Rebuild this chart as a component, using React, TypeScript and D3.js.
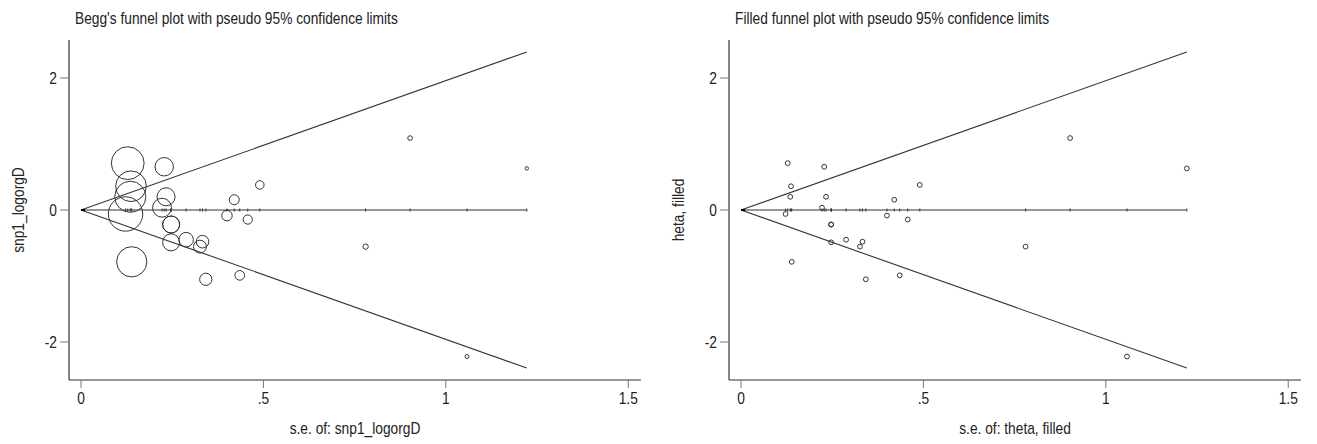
import React from "react";
import * as d3 from "d3";

// Study standard errors and effect estimates (log OR)
const seValues = [0.128, 0.228, 0.137, 0.135, 0.233, 0.122, 0.222, 0.247, 0.247, 0.247, 0.288, 0.333, 0.326, 0.139, 0.342, 0.435, 0.42, 0.40, 0.457, 0.49, 0.902, 1.222, 0.78, 1.058];
const thetaValues = [0.71, 0.655, 0.36, 0.20, 0.20, -0.06, 0.035, -0.22, -0.22, -0.49, -0.45, -0.48, -0.555, -0.785, -1.05, -0.99, 0.155, -0.085, -0.145, 0.38, 1.09, 0.63, -0.555, -2.22];

const xTicks = [0, 0.5, 1, 1.5];
const xTickLabels = ["0", ".5", "1", "1.5"];
const yTicks = [-2, 0, 2];
const yTickLabels = ["-2", "0", "2"];

const panels = [
  { title: "Begg's funnel plot with pseudo 95% confidence limits", yTitle: "snp1_logorgD", xTitle: "s.e. of: snp1_logorgD", weighted: true, offset: 0 },
  { title: "Filled funnel plot with pseudo 95% confidence limits", yTitle: "heta, filled", xTitle: "s.e. of: theta, filled", weighted: false, offset: 660 },
];

const FONT = "'Liberation Sans', Arial, Helvetica, sans-serif";
const TEXT = "#222";
const LINE = "#333";
const FS = 16;
const SX = 0.86;

function T({ x, y, anchor = "start", rotate = 0, children }: { x: number; y: number; anchor?: string; rotate?: number; children: React.ReactNode }) {
  return (
    <text
      transform={`translate(${x},${y}) rotate(${rotate}) scale(${SX},1)`}
      textAnchor={anchor}
      fontFamily={FONT}
      fontSize={FS}
      fill={TEXT}
    >
      {children}
    </text>
  );
}

function Panel({ p }: { p: typeof panels[number] }) {
  const ox = p.offset;
  const x = d3.scaleLinear().domain([-0.033, 1.535]).range([69 + ox, 641 + ox]);
  const y = d3.scaleLinear().domain([-2.576, 2.576]).range([380, 40]);
  const maxSe = d3.max(seValues) as number;
  const r = d3.scaleSqrt().domain([0, 1]).range([0, 2.1]);
  const data = seValues.map((s, i) => ({ se: s, theta: thetaValues[i] }));
  const upper = d3.line<number>().x((s) => x(s)).y((s) => y(1.96 * s));
  const lower = d3.line<number>().x((s) => x(s)).y((s) => y(-1.96 * s));
  const zero = d3.line<number>().x((s) => x(s)).y(() => y(0));
  const funnelSe = [0, maxSe];
  const [xl, xr] = x.range();
  const [yb, yt] = y.range();
  return (
    <g>
      <T x={75 + ox} y={24}>{p.title}</T>
      {/* axes */}
      <line x1={xl} x2={xl} y1={yt} y2={yb} stroke={LINE} strokeWidth={1.2} />
      <line x1={xl} x2={xr} y1={yb} y2={yb} stroke={LINE} strokeWidth={1.2} />
      {yTicks.map((t, i) => (
        <g key={"y" + t}>
          <line x1={xl - 9} x2={xl} y1={y(t)} y2={y(t)} stroke="#777" strokeWidth={1} />
          <T x={xl - 12} y={y(t) + 6} anchor="end">{yTickLabels[i]}</T>
        </g>
      ))}
      {xTicks.map((t, i) => (
        <g key={"x" + t}>
          <line x1={x(t)} x2={x(t)} y1={yb} y2={yb + 8} stroke="#777" strokeWidth={1} />
          <T x={x(t)} y={yb + 24} anchor="middle">{xTickLabels[i]}</T>
        </g>
      ))}
      <T x={(xl + xr) / 2} y={434} anchor="middle">{p.xTitle}</T>
      <T x={24 + ox} y={y(0)} anchor="middle" rotate={-90}>{p.yTitle}</T>
      {/* funnel */}
      <path d={upper(funnelSe) as string} fill="none" stroke={LINE} strokeWidth={1.1} />
      <path d={lower(funnelSe) as string} fill="none" stroke={LINE} strokeWidth={1.1} />
      <path d={zero(funnelSe) as string} fill="none" stroke={LINE} strokeWidth={1.1} />
      {data.map((d, i) => (
        <line key={"m" + i} x1={x(d.se)} x2={x(d.se)} y1={y(0) - 1.5} y2={y(0) + 1.5} stroke={LINE} strokeWidth={1} />
      ))}
      <line x1={x(0)} x2={x(0) + 4} y1={y(0)} y2={y(0)} stroke="#000" strokeWidth={2} />
      {data.map((d, i) => (
        <circle key={"c" + i} cx={x(d.se)} cy={y(d.theta)} r={p.weighted ? r(1 / (d.se * d.se)) : 2.4} fill="none" stroke={LINE} strokeWidth={1} />
      ))}
    </g>
  );
}

export default function App() {
  return (
    <svg width={1317} height={444} style={{ position: "absolute", left: 0, top: 0, background: "#fff" }}>
      <rect width={1317} height={444} fill="#fff" />
      {panels.map((p) => (
        <Panel key={p.title} p={p} />
      ))}
    </svg>
  );
}
